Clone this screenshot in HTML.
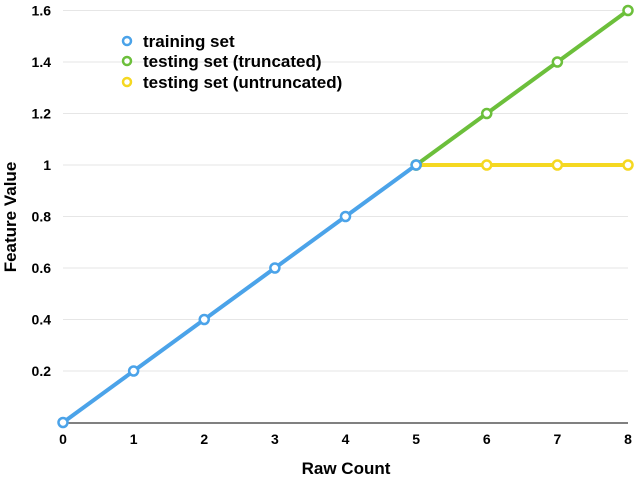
<!DOCTYPE html>
<html><head><meta charset="utf-8"><style>
body{margin:0;background:#fff;}
svg text{font-family:"Liberation Sans",sans-serif;font-weight:bold;fill:#000;}
</style></head><body>
<svg id="chart" width="640" height="480" xmlns="http://www.w3.org/2000/svg">
<g id="grid"></g><g id="axes"></g><g id="series"></g>
<text x="346" y="474" font-size="17" text-anchor="middle">Raw Count</text>
<text transform="translate(16,217) rotate(-90)" font-size="17" text-anchor="middle">Feature Value</text>
<g>
<g><circle cx="127" cy="41" r="4" fill="#fff" stroke="#4ba3e9" stroke-width="2.5"/><text x="143" y="47" font-size="17">training set</text></g>
<g><circle cx="127" cy="61" r="4" fill="#fff" stroke="#6cbf3b" stroke-width="2.5"/><text x="143" y="67" font-size="17">testing set (truncated)</text></g>
<g><circle cx="127" cy="82" r="4" fill="#fff" stroke="#f5d821" stroke-width="2.5"/><text x="143" y="88" font-size="17">testing set (untruncated)</text></g>
</g>
</svg>
<script>
const xTicks=[0,1,2,3,4,5,6,7,8];
const yTicks=[0.2,0.4,0.6,0.8,1,1.2,1.4,1.6];
const yTickLabels=["0.2","0.4","0.6","0.8","1","1.2","1.4","1.6"];
const trainX=[0,1,2,3,4,5];
const trainY=[0,0.2,0.4,0.6,0.8,1];
const truncX=[5,6,7,8];
const truncY=[1,1.2,1.4,1.6];
const untruncX=[5,6,7,8];
const untruncY=[1,1,1,1];
const NS="http://www.w3.org/2000/svg";
const X=v=>63+v*(628-63)/8;
const Y=v=>422.5-v*257.5;
function mk(tag,attrs,parent){const e=document.createElementNS(NS,tag);for(const k in attrs)e.setAttribute(k,attrs[k]);parent.appendChild(e);return e;}
const grid=document.getElementById('grid'),axes=document.getElementById('axes'),series=document.getElementById('series');
yTicks.forEach((t,i)=>{
 const l=mk('line',{x1:63,x2:628,y1:Y(t),y2:Y(t),stroke:'#e6e6e6','stroke-width':1},grid);
 
 
 const tx=mk('text',{x:51,y:Y(t)+5,'font-size':14,'text-anchor':'end'},axes);
 tx.textContent=yTickLabels[i];
 
 
});
const ax=mk('line',{x1:63,x2:628,y1:423,y2:423,stroke:'#000','stroke-width':1},axes);


xTicks.forEach(t=>{
 const tx=mk('text',{x:X(t),y:444,'font-size':14,'text-anchor':'middle'},axes);
 tx.textContent=t;
 
 
});
function draw(xs,ys,color,name){
 const g=mk('g',{},series);
 
 
 const p=mk('polyline',{points:xs.map((x,i)=>X(x)+','+Y(ys[i])).join(' '),fill:'none',stroke:color,'stroke-width':4,'stroke-linejoin':'round'},g);
 
 
 xs.forEach((x,i)=>{
  const c=mk('circle',{cx:X(x),cy:Y(ys[i]),r:4.5,fill:'#fff',stroke:color,'stroke-width':2.5},g);
  
  
 });
}
draw(untruncX,untruncY,'#f5d821','untruncated-series');
draw(truncX,truncY,'#6cbf3b','truncated-series');
draw(trainX,trainY,'#4ba3e9','training-series');
</script>
</body></html>
